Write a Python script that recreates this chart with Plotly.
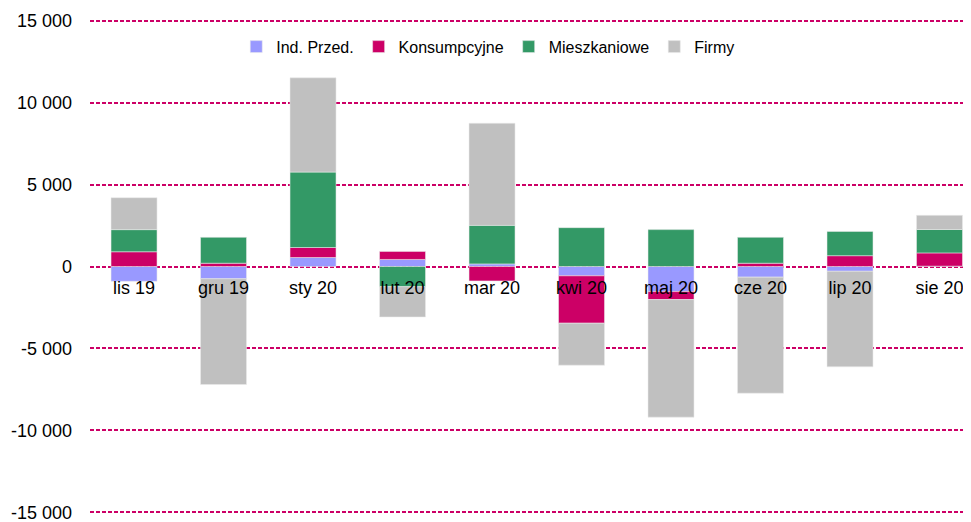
import plotly.graph_objects as go

categories = ["lis 19", "gru 19", "sty 20", "lut 20", "mar 20",
              "kwi 20", "maj 20", "cze 20", "lip 20", "sie 20"]
ind_przed = [-900, -750, 550, 430, 160, -570, -1530, -650, -290, 20]
konsumpcyjne = [900, 200, 610, 490, -880, -2890, -490, 200, 660, 810]
mieszkaniowe = [1350, 1580, 4600, -1230, 2350, 2370, 2250, 1580, 1480, 1430]
firmy = [1950, -6450, 5750, -1850, 6230, -2560, -7170, -7080, -5830, 860]

y_tickvals = [15000, 10000, 5000, 0, -5000, -10000, -15000]
y_ticktext = ["15 000", "10 000", "5 000", "0", "-5 000", "-10 000", "-15 000"]

series = [
    ("Ind. Przed.", ind_przed, "#9999FF"),
    ("Konsumpcyjne", konsumpcyjne, "#CC0066"),
    ("Mieszkaniowe", mieszkaniowe, "#339966"),
    ("Firmy", firmy, "#C0C0C0"),
]

fig = go.Figure()
for name, vals, color in series:
    fig.add_trace(go.Bar(
        name=name, x=categories, y=vals,
        marker=dict(color=color, line=dict(width=0.6, color="rgba(235,235,235,0.9)")),
    ))

# the page body keeps an 8px browser margin, so the figure is 8px smaller
fig.update_layout(
    width=963, height=514,
    barmode="relative",
    bargap=0.486,
    plot_bgcolor="white", paper_bgcolor="white",
    margin=dict(l=82, r=0, t=11, b=8, autoexpand=False),
    font=dict(family="Liberation Sans, Arial, sans-serif", size=18, color="#000000"),
    legend=dict(
        orientation="h", x=0.166, xanchor="left", y=0.944, yanchor="middle",
        font=dict(size=16), traceorder="normal", bgcolor="rgba(0,0,0,0)",
    ),
    xaxis=dict(
        range=[-0.492, 9.352], anchor="free", position=0.5, automargin=False,
        showgrid=False, showline=False, zeroline=False, ticks="",
        tickfont=dict(size=18), ticklabelstandoff=8,
    ),
    yaxis=dict(
        range=[-15100, 15100], tickvals=y_tickvals, ticktext=y_ticktext,
        automargin=False, ticklabeloverflow="allow",
        showgrid=True, gridcolor="#CC0066", griddash="4px,2px", gridwidth=1.5,
        zeroline=False, showline=False, ticks="",
        ticklabelstandoff=17, tickfont=dict(size=18),
    ),
)

fig.write_html("out.html", config={"displayModeBar": False})
